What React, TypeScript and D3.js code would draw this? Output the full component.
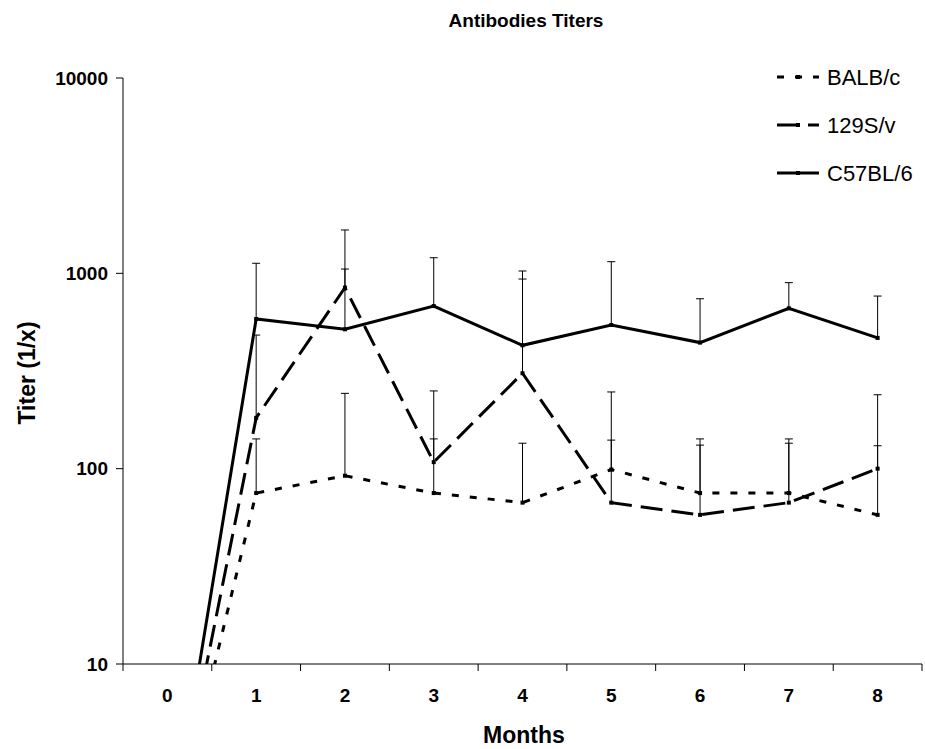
import * as d3 from "d3";
import { useEffect, useRef } from "react";

// data (titer = 1/x), month 0 is below the axis floor
const months = [0, 1, 2, 3, 4, 5, 6, 7, 8];
const yTicks = [10, 100, 1000, 10000];

const balb = [1, 75, 92, 75, 67, 99, 75, 75, 58];
const balbSd = [0, 67, 151, 67, 68, 148, 67, 67, 73];

const s129 = [1, 182, 845, 108, 308, 67, 58, 67, 100];
const s129Sd = [0, 301, 822, 142, 627, 73, 74, 68, 139];

const c57 = [1, 584, 517, 680, 428, 544, 442, 662, 467];
const c57Sd = [0, 542, 535, 522, 600, 603, 299, 234, 298];

const seriesNames = ["BALB/c", "129S/v", "C57BL/6"];

const W = 925;
const H = 749;
const FONT = "'Liberation Sans', Arial, sans-serif";

export default function App() {
  const svgRef = useRef<SVGSVGElement>(null);

  const left = 123;
  const right = 922;
  const top = 78;
  const bottom = 664;

  const x = d3.scaleBand<number>().domain(months).range([left, right]);
  const y = d3.scaleLog().domain([10, 10000]).range([bottom, top]);
  const cx = (m: number) => (x(m) as number) + x.bandwidth() / 2;

  const series = [
    { name: seriesNames[0], vals: balb, sd: balbSd, dash: "7,11" },
    { name: seriesNames[1], vals: s129, sd: s129Sd, dash: "22,9" },
    { name: seriesNames[2], vals: c57, sd: c57Sd, dash: null },
  ];

  useEffect(() => {
    const svg = d3.select(svgRef.current);
    const plot = svg.select<SVGGElement>(".plot");
    plot.selectAll("*").remove();

    const line = d3
      .line<number>()
      .x((d, i) => cx(months[i]))
      .y((d) => y(d));

    series.forEach((s) => {
      // upper error bars
      const eb = plot.append("g");
      s.vals.forEach((v, i) => {
        if (!s.sd[i]) return;
        const xx = cx(months[i]);
        const yTop = y(v + s.sd[i]);
        eb.append("path")
          .attr("d", `M${xx},${y(v)}V${yTop}M${xx - 4},${yTop}H${xx + 4}`)
          .attr("stroke", "#000")
          .attr("stroke-width", 1)
          .attr("fill", "none");
      });
    });

    series.forEach((s) => {
      plot.append("path")
        .attr("d", line(s.vals))
        .attr("fill", "none")
        .attr("stroke", "#000")
        .attr("stroke-width", 3)
        .attr("stroke-dasharray", s.dash)
        .attr("clip-path", "url(#clip)");

      plot.selectAll(null)
        .data(s.vals.slice(1))
        .join("rect")
        .attr("x", (d, i) => cx(months[i + 1]) - 2)
        .attr("y", (d) => y(d) - 2)
        .attr("width", 4)
        .attr("height", 4)
        .attr("fill", "#000");
    });
  }, []);

  const tickEdges = months.map((m) => x(m) as number).concat([right]);

  return (
    <svg
      ref={svgRef}
      width={W}
      height={H}
      style={{ position: "absolute", left: 0, top: 0, background: "#fff" }}
      fontFamily={FONT}
    >
      <defs>
        <clipPath id="clip">
          <rect x={left} y={top} width={right - left} height={bottom - top} />
        </clipPath>
      </defs>

      <text x={526} y={27} textAnchor="middle" fontSize={19} fontWeight="bold">
        Antibodies Titers
      </text>

      {/* y axis */}
      <line x1={left} x2={left} y1={top} y2={bottom} stroke="#000" />
      {yTicks.map((t) => (
        <g key={t}>
          <line x1={left - 7} x2={left} y1={y(t)} y2={y(t)} stroke="#000" />
          <text x={left - 15} y={y(t)} dy="0.35em" textAnchor="end" fontSize={19} fontWeight="bold">
            {t}
          </text>
        </g>
      ))}
      <text
        transform={`translate(27,${373}) rotate(-90)`}
        textAnchor="middle"
        dy="0.35em"
        fontSize={23}
        fontWeight="bold"
      >
        Titer (1/x)
      </text>

      {/* x axis */}
      <line x1={left} x2={right} y1={bottom} y2={bottom} stroke="#000" />
      {tickEdges.map((e, i) => (
        <line key={i} x1={e} x2={e} y1={bottom} y2={bottom + 7} stroke="#000" />
      ))}
      {months.map((m) => (
        <text key={m} x={cx(m)} y={702} textAnchor="middle" fontSize={19} fontWeight="bold">
          {m}
        </text>
      ))}
      <text x={524} y={743} textAnchor="middle" fontSize={23} fontWeight="bold">
        Months
      </text>

      <g className="plot" />

      {/* legend */}
      {series.map((s, i) => {
        const ly = 77 + i * 48;
        return (
          <g key={s.name}>
            <line
              x1={777}
              x2={819}
              y1={ly}
              y2={ly}
              stroke="#000"
              strokeWidth={3}
              strokeDasharray={s.dash ?? undefined}
            />
            <rect x={796} y={ly - 2} width={4} height={4} fill="#000" />
            <text x={827} y={ly} dy="0.35em" fontSize={22}>
              {s.name}
            </text>
          </g>
        );
      })}
    </svg>
  );
}
